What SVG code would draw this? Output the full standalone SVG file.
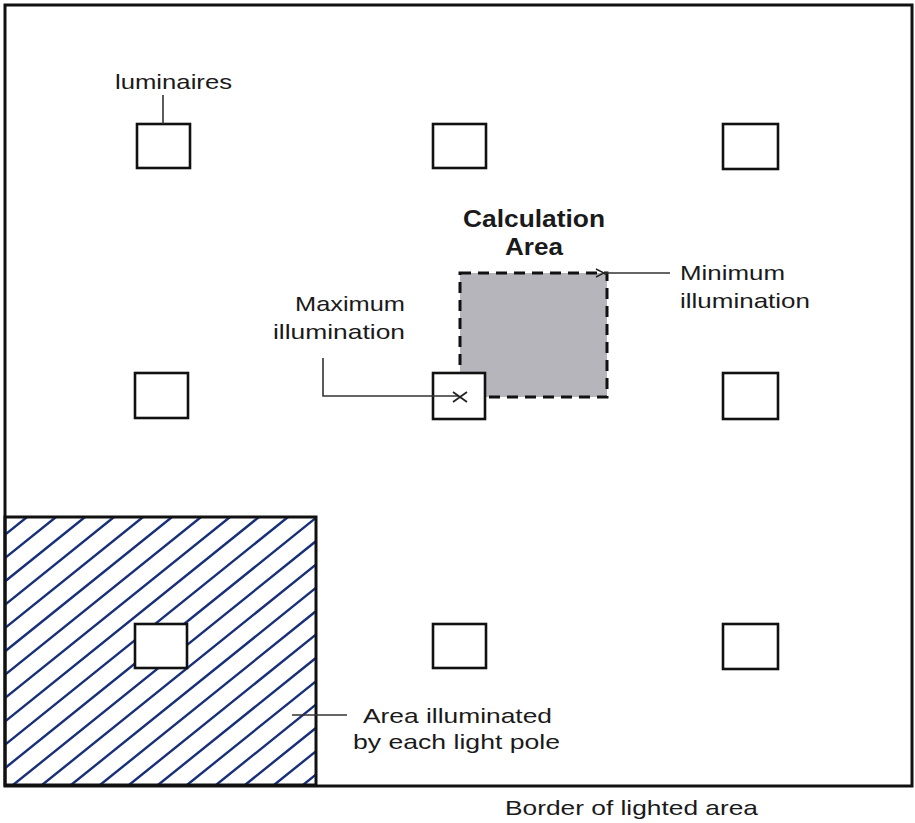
<svg xmlns="http://www.w3.org/2000/svg" width="915" height="823" viewBox="0 0 915 823">
<style>
.lum{fill:#fff;stroke:#111;stroke-width:2.6}
.lbl{font-family:"Liberation Sans",Arial,sans-serif;font-size:21px;fill:#1a1a1a}
.bold{font-weight:bold;font-size:23px}
.lead{stroke:#333;stroke-width:1.6;fill:none}
.hatch{stroke:#18307a;stroke-width:2.4;fill:none}
</style>
<defs>
<marker id="openArrow" markerWidth="10" markerHeight="10" refX="1" refY="5" orient="auto" markerUnits="userSpaceOnUse">
<path d="M9,1 L1,5 L9,9" fill="none" stroke="#222" stroke-width="1.5"/>
</marker>
<clipPath id="hatchClip"><rect x="5" y="517" width="311" height="268"/></clipPath>
</defs>
<rect x="0" y="0" width="915" height="823" fill="#fff"/>

<g id="border">
<rect x="5" y="5" width="907" height="781" fill="none" stroke="#111" stroke-width="3"/>
</g>

<g id="lit-area">
<g clip-path="url(#hatchClip)">
<path class="hatch" d="M-306,785 L27,517 M-277,785 L56,517 M-248,785 L85,517 M-219,785 L114,517 M-190,785 L143,517 M-161,785 L172,517 M-132,785 L201,517 M-103,785 L230,517 M-74,785 L259,517 M-45,785 L288,517 M-16,785 L317,517 M13,785 L346,517 M42,785 L375,517 M71,785 L404,517 M100,785 L433,517 M129,785 L462,517 M158,785 L491,517 M187,785 L520,517 M216,785 L549,517 M245,785 L578,517 M274,785 L607,517 M303,785 L636,517"/>
</g>
<rect x="5" y="517" width="311" height="268" fill="none" stroke="#111" stroke-width="3"/>
</g>

<g id="calculation-area">
<rect x="460" y="273" width="147" height="124" fill="#b6b5bb" stroke="#111" stroke-width="3" stroke-dasharray="11 7"/>
</g>

<g id="luminaire-r1c1"><rect class="lum" x="137" y="124" width="53" height="44"/></g>
<g id="luminaire-r1c2"><rect class="lum" x="433" y="124" width="53" height="44"/></g>
<g id="luminaire-r1c3"><rect class="lum" x="723" y="124" width="55" height="45"/></g>
<g id="luminaire-r2c1"><rect class="lum" x="135" y="373" width="53" height="45"/></g>
<g id="luminaire-r2c2"><rect class="lum" x="433" y="373" width="52" height="46"/></g>
<g id="luminaire-r2c3"><rect class="lum" x="723" y="373" width="55" height="46"/></g>
<g id="luminaire-r3c1"><rect class="lum" x="135" y="624" width="52" height="44"/></g>
<g id="luminaire-r3c2"><rect class="lum" x="433" y="624" width="53" height="44"/></g>
<g id="luminaire-r3c3"><rect class="lum" x="723" y="624" width="55" height="45"/></g>

<g id="connectors">
<line class="lead" x1="163" y1="95" x2="163" y2="124" stroke-width="2"/>
<polyline class="lead" points="323,358 323,396 458,396"/>
<path d="M453,392 L467,402 M453,402 L467,392" stroke="#222" stroke-width="1.8" fill="none"/>
<line class="lead" x1="670" y1="273" x2="604" y2="273" marker-end="url(#openArrow)"/>
<line class="lead" x1="292" y1="715" x2="347" y2="715"/>
</g>

<g id="labels">
<text class="lbl" x="115" y="89" font-size="22" textLength="117" lengthAdjust="spacingAndGlyphs">luminaires</text>
<text class="lbl bold" x="463" y="227" textLength="142" lengthAdjust="spacingAndGlyphs">Calculation</text>
<text class="lbl bold" x="505" y="255" textLength="58" lengthAdjust="spacingAndGlyphs">Area</text>
<text class="lbl" x="295" y="311" textLength="110" lengthAdjust="spacingAndGlyphs">Maximum</text>
<text class="lbl" x="273" y="339" textLength="132" lengthAdjust="spacingAndGlyphs">illumination</text>
<text class="lbl" x="680" y="280" textLength="105" lengthAdjust="spacingAndGlyphs">Minimum</text>
<text class="lbl" x="680" y="308" textLength="130" lengthAdjust="spacingAndGlyphs">illumination</text>
<text class="lbl" x="363" y="723" textLength="189" lengthAdjust="spacingAndGlyphs">Area illuminated</text>
<text class="lbl" x="353" y="749" textLength="207" lengthAdjust="spacingAndGlyphs">by each light pole</text>
<text class="lbl" x="505" y="815" font-size="22" textLength="253" lengthAdjust="spacingAndGlyphs">Border of lighted area</text>
</g>
</svg>
